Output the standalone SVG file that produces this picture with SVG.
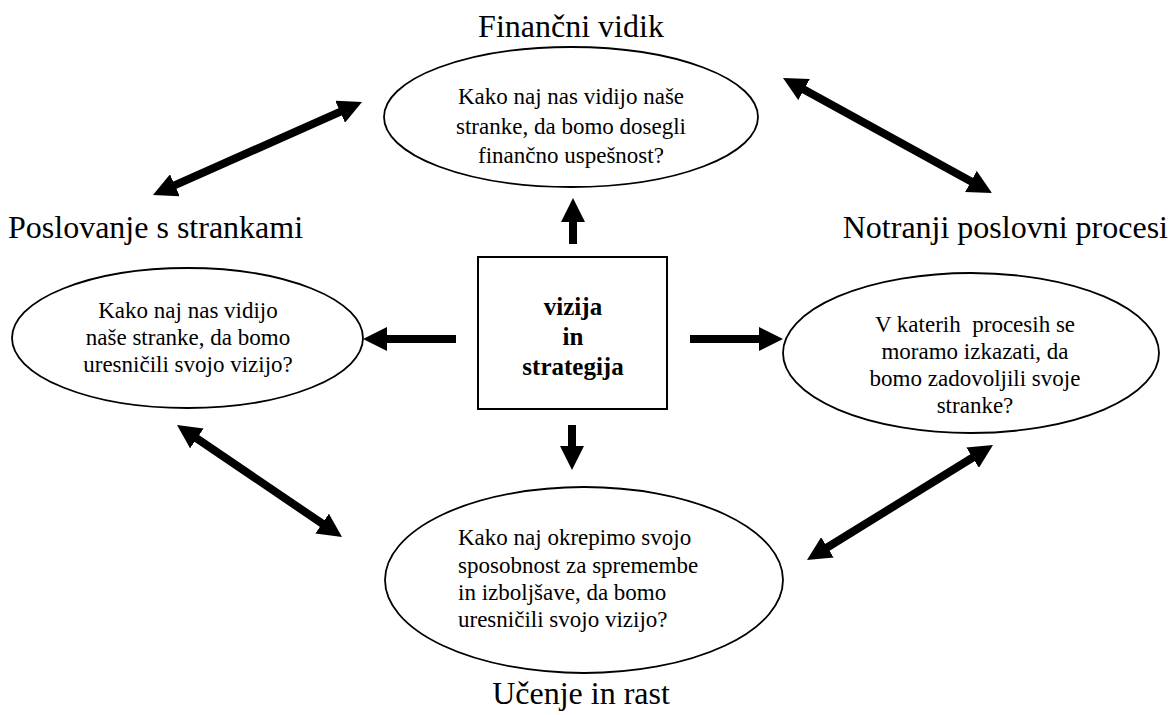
<svg xmlns="http://www.w3.org/2000/svg" width="1171" height="715" viewBox="0 0 1171 715">
  <style>
    .bg { fill: #ffffff; }
    .shape { fill: #ffffff; stroke: #000000; stroke-width: 1.8; }
    .box { fill: #ffffff; stroke: #000000; stroke-width: 2; }
    .title { font-family: "Liberation Serif", "Times New Roman", serif; font-size: 32px; fill: #000000; }
    .q { font-family: "Liberation Serif", "Times New Roman", serif; font-size: 23px; fill: #000000; }
    .core { font-family: "Liberation Serif", "Times New Roman", serif; font-size: 25px; font-weight: bold; fill: #000000; }
    .mid { text-anchor: middle; }
    .shaft { stroke: #000000; stroke-width: 8; fill: none; }
  </style>
  <defs>
    <marker id="head" viewBox="0 0 24 24" markerUnits="userSpaceOnUse" markerWidth="24" markerHeight="24" refX="6" refY="12" orient="auto-start-reverse">
      <path d="M0,0 L24,12 L0,24 Z" fill="#000000"/>
    </marker>
  </defs>

  <rect class="bg" x="0" y="0" width="1171" height="715"/>

  <!-- perspective titles -->
  <text class="title mid" x="571" y="37">Finančni vidik</text>
  <text class="title" x="8" y="238">Poslovanje s strankami</text>
  <text class="title" x="1168" y="238" text-anchor="end">Notranji poslovni procesi</text>
  <text class="title mid" x="581" y="704">Učenje in rast</text>

  <!-- financial perspective -->
  <g id="financni">
    <ellipse class="shape" cx="571" cy="117" rx="187" ry="70"/>
    <text class="q mid" x="571" y="104">Kako naj nas vidijo naše</text>
    <text class="q mid" x="571" y="134">stranke, da bomo dosegli</text>
    <text class="q mid" x="571" y="163">finančno uspešnost?</text>
  </g>

  <!-- customer perspective -->
  <g id="stranke">
    <ellipse class="shape" cx="187.5" cy="338" rx="175.5" ry="70"/>
    <text class="q mid" x="188" y="318">Kako naj nas vidijo</text>
    <text class="q mid" x="188" y="345">naše stranke, da bomo</text>
    <text class="q mid" x="188" y="372">uresničili svojo vizijo?</text>
  </g>

  <!-- internal processes -->
  <g id="procesi">
    <ellipse class="shape" cx="971" cy="353" rx="188" ry="80"/>
    <text class="q mid" x="975" y="332" xml:space="preserve">V katerih  procesih se</text>
    <text class="q mid" x="975" y="359">moramo izkazati, da</text>
    <text class="q mid" x="975" y="386">bomo zadovoljili svoje</text>
    <text class="q mid" x="975" y="413">stranke?</text>
  </g>

  <!-- learning and growth -->
  <g id="ucenje">
    <ellipse class="shape" cx="584" cy="580" rx="199" ry="93"/>
    <text class="q" x="458" y="545">Kako naj okrepimo svojo</text>
    <text class="q" x="458" y="573">sposobnost za spremembe</text>
    <text class="q" x="458" y="600">in izboljšave, da bomo</text>
    <text class="q" x="458" y="627">uresničili svojo vizijo?</text>
  </g>

  <!-- vision and strategy -->
  <g id="vizija">
    <rect class="box" x="478" y="257" width="189" height="152"/>
    <text class="core mid" x="573" y="315">vizija</text>
    <text class="core mid" x="573" y="345">in</text>
    <text class="core mid" x="573" y="375">strategija</text>
  </g>

  <g id="connectors">
    <!-- from the centre outwards -->
    <line class="shaft" x1="573" y1="244" x2="573" y2="216" marker-end="url(#head)"/>
    <line class="shaft" x1="572" y1="425" x2="572" y2="452" marker-end="url(#head)"/>
    <line class="shaft" x1="456" y1="339" x2="381" y2="339" marker-end="url(#head)"/>
    <line class="shaft" x1="690" y1="339" x2="765" y2="339" marker-end="url(#head)"/>
    <!-- two-way links between perspectives -->
    <line class="shaft" x1="169.4" y1="187.7" x2="345.6" y2="109.3" marker-start="url(#head)" marker-end="url(#head)"/>
    <line class="shaft" x1="798.8" y1="86.7" x2="976.2" y2="184.3" marker-start="url(#head)" marker-end="url(#head)"/>
    <line class="shaft" x1="191.9" y1="435.1" x2="327.1" y2="526.9" marker-start="url(#head)" marker-end="url(#head)"/>
    <line class="shaft" x1="822.3" y1="550.5" x2="977.7" y2="454.5" marker-start="url(#head)" marker-end="url(#head)"/>
  </g>
</svg>
